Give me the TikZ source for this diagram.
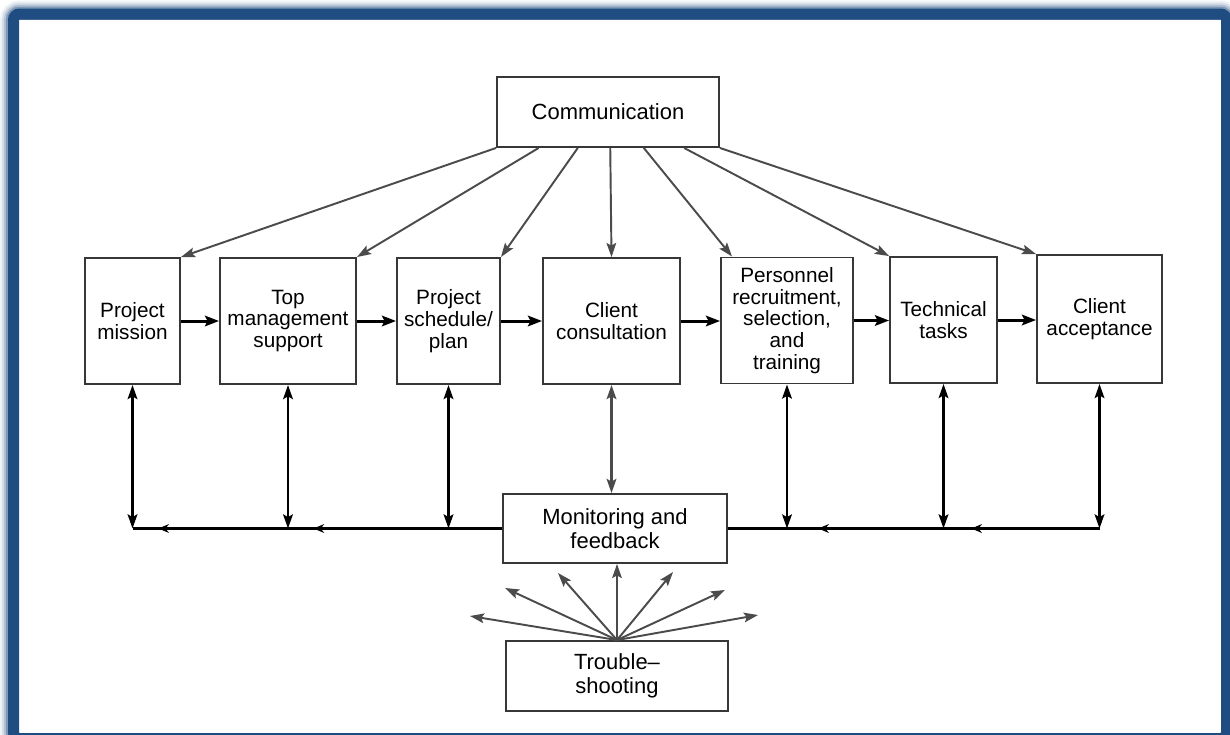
\documentclass[tikz,border=0pt]{standalone}
\usepackage{fontspec}
\setmainfont{Liberation Sans}
\usetikzlibrary{arrows.meta,calc,decorations.markings}
\definecolor{framecol}{RGB}{31,77,130}
\definecolor{boxgray}{RGB}{55,55,55}
\definecolor{arrgray}{RGB}{75,75,75}
\tikzset{
  box/.style={draw=boxgray,line width=1.1pt,fill=white,align=center,inner sep=1pt,
    font=\fontsize{11.8}{12.4}\selectfont},
  rowbox/.style={box,minimum height=2.52cm},
  bigbox/.style={box,minimum width=4.44cm,minimum height=1.4cm,
    font=\fontsize{12.5}{13.5}\selectfont},
  comline/.style={draw=arrgray,line width=1.1pt,
    arrows={-Stealth[length=8pt,width=5.5pt,inset=1.5pt]}},
  flowline/.style={line width=1.7pt,arrows={-Stealth[length=8pt,width=6pt,inset=1.5pt]}},
  twoway/.style={line width=1.4pt,
    arrows={Stealth[length=8pt,width=5.5pt,inset=1.5pt]-Stealth[length=8pt,width=5.5pt,inset=1.5pt]}},
  fanline/.style={draw=arrgray,line width=1.1pt,
    arrows={-Stealth[length=8pt,width=5.5pt,inset=1.5pt]}},
  feedline/.style 2 args={line width=1.8pt,postaction={decorate},
    decoration={markings,
      mark=at position #1 with {\arrow{Stealth[length=6pt,width=5pt]}},
      mark=at position #2 with {\arrow{Stealth[length=6pt,width=5pt]}}}}
}
\begin{document}
\begin{tikzpicture}[x=0.2mm,y=-0.2mm]%
  \path[use as bounding box] (0,0) rectangle (1230,734);
  \clip (0,0) rectangle (1230,734);
  \fill[white] (0,0) rectangle (1230,734);
  \foreach \w/\o in {5.4mm/0.06,4.6mm/0.12,3.8mm/0.2,3mm/0.35}
    \draw[framecol,opacity=\o,line width=\w,rounded corners=1.2mm]
      (13.5,14) rectangle (1226.5,738.5);
  \fill[white] (19,20) rectangle (1221,733);
  \draw[framecol,line width=2.2mm,rounded corners=1.2mm] (13.5,14) rectangle (1226.5,738.5);

  \node[bigbox] (comm) at (608,112) {Communication};
  \node[rowbox,minimum width=1.9cm] (mission) at (132.5,321) {Project\\mission};
  \node[rowbox,minimum width=2.72cm] (support) at (288,321) {Top\\management\\support};
  \node[rowbox,minimum width=2.06cm] (plan) at (448.5,321) {Project\\schedule/\\plan};
  \node[rowbox,minimum width=2.74cm] (consult) at (611.5,321) {Client\\consultation};
  \node[rowbox,minimum width=2.64cm] (staff) at (787,320.5)
    {Personnel\\recruitment,\\selection,\\and\\training};
  \node[rowbox,minimum width=2.14cm] (tasks) at (943.5,320) {Technical\\tasks};
  \node[rowbox,minimum width=2.5cm,minimum height=2.56cm] (accept) at (1099.5,319)
    {Client\\acceptance};
  \node[bigbox,minimum width=4.48cm,minimum height=1.38cm] (monitor) at (615,528.5)
    {Monitoring and\\feedback};
  \node[bigbox] (trouble) at (617,676) {Trouble--\\shooting};

  \coordinate (staffin) at ([xshift=2.4mm]staff.north west);
  \foreach \f/\t in {0/mission.north east,0.19/support.north east,0.365/plan.north east,
      0.51/consult.north,0.66/staffin,0.84/tasks.north west,1/accept.north west}
    \draw[comline] ($(comm.south west)!\f!(comm.south east)$) -- (\t);

  \foreach \a/\b in {mission/support,support/plan,plan/consult,consult/staff,
      staff/tasks,tasks/accept}
    \draw[flowline] (\a.east) -- (\a.east -| \b.west);

  \foreach \n in {mission,support,plan,staff,tasks,accept}
    \draw[twoway] (\n.south) -- (\n.south |- monitor.west);
  \draw[twoway,draw=arrgray] (consult.south) -- (consult.south |- monitor.north);
  \draw[feedline={0.51}{0.93}] (monitor.west) -- (mission.south |- monitor.west);
  \draw[feedline={0.345}{0.757}] (accept.south |- monitor.east) -- (monitor.east);

  \foreach \x/\y [count=\i] in {558/573,505/588,470/616,673/572,725/590,758/615}
    \coordinate (tip\i) at (\x,\y);
  \foreach \i in {1,...,6}
    \draw[fanline] (trouble.north) -- (tip\i);
  \draw[fanline] (trouble.north) -- (trouble.north |- monitor.south);
\end{tikzpicture}
\end{document}
